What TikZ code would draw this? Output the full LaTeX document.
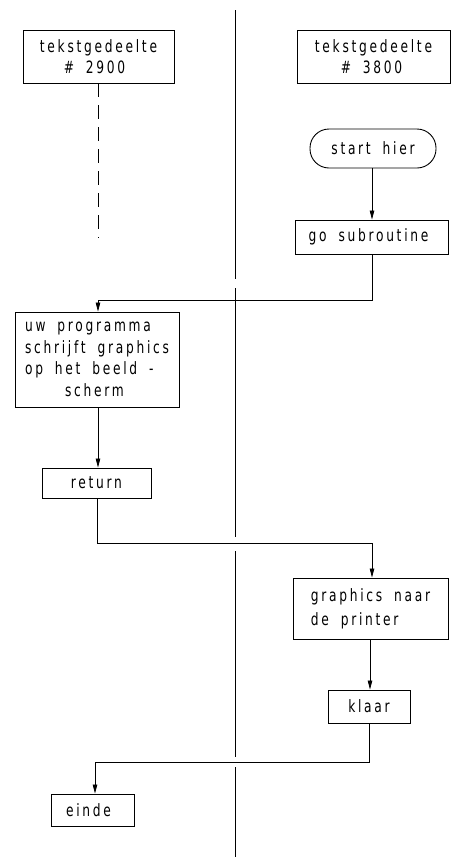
\documentclass[tikz,border=0pt]{standalone}
\usepackage{fontspec}
\setmainfont{DejaVu Sans}[FakeStretch=0.72, LetterSpace=16, WordSpace=1.8]
\usetikzlibrary{arrows.meta,calc}
\begin{document}
\begin{tikzpicture}[x=1pt,y=-1pt,
  every node/.style={font=\fontsize{17}{21.5}\selectfont},
  box/.style={draw, line width=0.9pt, inner sep=0pt, align=center},
  conn/.style={line width=0.8pt},
  arr/.style={conn, -{Triangle[length=9pt,width=4.5pt]}},
  divider/.style={line width=0.9pt}
]
\fill[white] (0,0) rectangle (458,857);
\useasboundingbox (0,0) rectangle (458,857);

% divider
\draw[divider] (235,10) -- (235,279);
\draw[divider] (235,288) -- (235,537);
\draw[divider] (235,551) -- (235,757);
\draw[divider] (235,767) -- (235,857);

% nodes
\node[box, minimum width=151pt, minimum height=53pt] (b2900) at (98.5,56.5) {tekstgedeelte\\\# 2900\hspace*{8pt}};
\node[box, minimum width=153pt, minimum height=53pt] (b3800) at (373.5,56.5) {tekstgedeelte\\\# 3800\hspace*{4pt}};
\node[box, rounded corners=19pt, minimum width=126pt, minimum height=39pt] (start) at (373,148.5) {start hier};
\node[box, minimum width=153pt, minimum height=34pt] (gosub) at (371.5,237) {go subroutine\hspace*{6pt}};
\node[box, align=left, minimum width=164pt, minimum height=95pt] (prog) at (97,359.5) {uw programma\\schrijft graphics\\op het beeld -\\\hspace*{40pt}scherm};
\node[box, minimum width=109pt, minimum height=30pt] (ret) at (96.5,483) {return};
\node[box, align=left, minimum width=155pt, minimum height=61pt, font=\fontsize{17}{24}\selectfont] (gfx) at (370.5,608.5) {graphics naar\\de printer};
\node[box, minimum width=82pt, minimum height=33pt] (klaar) at (369,706.5) {klaar};
\node[box, minimum width=83pt, minimum height=32pt] (einde) at (92.5,810) {einde\hspace*{8pt}};

% dashed continuation
\coordinate (dend) at (98.5,238);
\draw[conn, dash pattern=on 14pt off 8pt] (b2900.south) -- (dend);

% connectors
\draw[arr] ($(start.south)+(-1,0)$) -- ($(gosub.north)+(0.5,0)$);
\draw[arr] ($(gosub.south)+(0.5,0)$) -- ++(0,46) -| ($(prog.north)+(1,0)$);
\draw[arr] ($(prog.south)+(1,0)$) -- ($(ret.north)+(1.5,0)$);
\draw[arr] ($(ret.south)+(0.5,0)$) -- ++(0,45) -| ($(gfx.north)+(1.5,0)$);
\draw[arr] ($(gfx.south)+(-0.5,0)$) -- ($(klaar.north)+(1,0)$);
\draw[arr] (klaar.south) -- ++(0,39) -| ($(einde.north)+(2.5,0)$);
\end{tikzpicture}
\end{document}
